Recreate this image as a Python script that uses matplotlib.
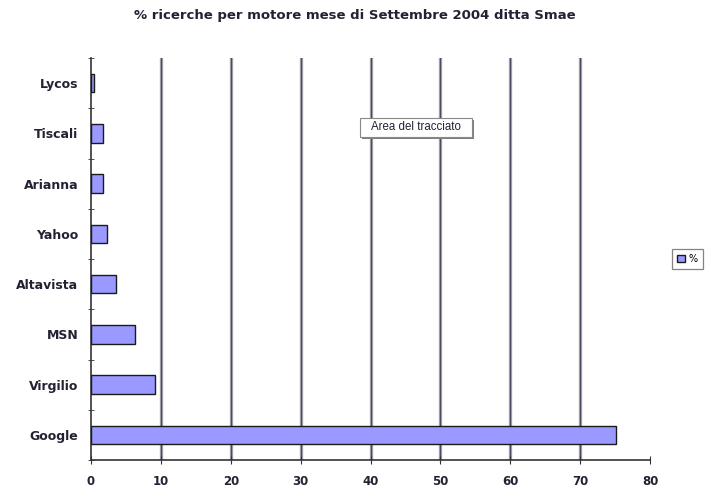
import matplotlib
matplotlib.use("Agg")
import matplotlib.pyplot as plt
from matplotlib.patches import Rectangle

categories = ["Google", "Virgilio", "MSN", "Altavista", "Yahoo", "Arianna", "Tiscali", "Lycos"]
values = [75.1, 9.2, 6.3, 3.6, 2.3, 1.7, 1.7, 0.4]
xticks = [0, 10, 20, 30, 40, 50, 60, 70, 80]
title = "% ricerche per motore mese di Settembre 2004 ditta Smae"

plt.rcParams['font.family'] = ['DejaVu Sans']

fig = plt.figure(figsize=(7.05, 4.9), dpi=100)
W, H = 705, 490
x0, x1, ytop, ybot = 91, 650, 58, 460
ax = fig.add_axes([x0 / W, 1 - ybot / H, (x1 - x0) / W, (ybot - ytop) / H])

ypos = list(range(len(categories)))
ax.barh(ypos, values, height=0.37, color="#9999FF", edgecolor="#1a1a1a", linewidth=1.0, zorder=3, label="%")
ax.set_xlim(0, 80)
ax.set_ylim(-0.5, len(categories) - 0.5)
ax.set_xticks(xticks)
ax.set_xticklabels([str(t) for t in xticks], fontsize=8.5, fontweight="bold", color="#222233")
ax.set_yticks(ypos)
ax.set_yticklabels(categories, fontsize=9, fontweight="bold", color="#222233")
ax.tick_params(axis="y", length=0, pad=9)
ax.set_yticks([i - 0.5 for i in range(len(categories) + 1)], minor=True)
ax.tick_params(axis="y", which="minor", length=4, direction="inout", color="#333333")
ax.tick_params(axis="x", length=6, direction="inout", color="#333333", pad=8)

for t in xticks[1:-1]:
    ax.axvline(t, color="#b0b0b8", linewidth=2.4, zorder=1)
    ax.axvline(t, color="#4a4a60", linewidth=1.0, zorder=1)

for s in ["top", "right"]:
    ax.spines[s].set_visible(False)
for s in ["left", "bottom"]:
    ax.spines[s].set_color("#333333")
    ax.spines[s].set_linewidth(1.2)

fig.text(355 / W, 1 - 16 / H, title, ha="center", va="center", fontsize=9.5, fontweight="bold", color="#222233")

# tooltip "Area del tracciato"
fig.patches.append(Rectangle((362 / W, 1 - 139 / H), 112 / W, 19 / H, transform=fig.transFigure,
                             facecolor="#808080", edgecolor="none", zorder=5))
fig.patches.append(Rectangle((360 / W, 1 - 137 / H), 112 / W, 19 / H, transform=fig.transFigure,
                             facecolor="white", edgecolor="#888888", linewidth=0.8, zorder=6))
fig.text(416 / W, 1 - 127.5 / H, "Area del tracciato", ha="center", va="center", fontsize=8.3,
         family="Liberation Sans", color="#222233", zorder=7)

leg = ax.legend(loc="center left", bbox_to_anchor=(672 / W, 1 - 259 / H), bbox_transform=fig.transFigure,
                fontsize=7, frameon=True, fancybox=False, handlelength=0.8, handleheight=0.8,
                borderpad=0.5, handletextpad=0.4, borderaxespad=0)
leg.get_frame().set_edgecolor("#666666")
leg.get_frame().set_linewidth(0.9)

fig.savefig("out.png", dpi=100)
